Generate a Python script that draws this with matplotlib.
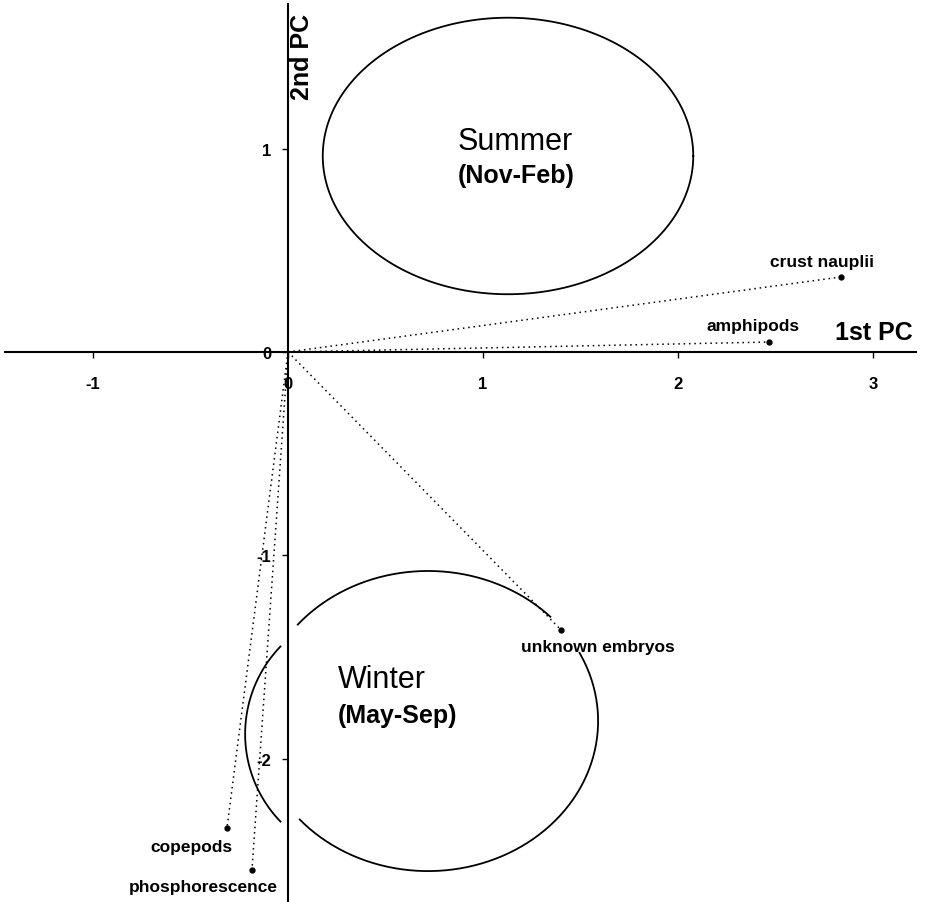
import numpy as np
from matplotlib import pyplot as plt

plt.rcParams['font.family'] = ['Liberation Sans', 'DejaVu Sans']
plt.rcParams['axes.unicode_minus'] = False

# species loadings on the first two principal components
species = ["crust nauplii", "amphipods", "unknown embryos", "copepods", "phosphorescence"]
pc1 = [2.836, 2.467, 1.40, -0.313, -0.185]
pc2 = [0.369, 0.049, -1.367, -2.341, -2.548]
# label anchor (offset from point, data units)
lab_dx = [-0.10, -0.08, 0.19, -0.18, -0.25]
lab_dy = [0.075, 0.080, -0.080, -0.09, -0.08]

# season groups: centre x, centre y, half width, half height
summer = (1.128, 0.964, 0.95, 0.68)
winter = (0.718, -1.815, 0.872, 0.738)
winter_left = (0.426, -1.879, 0.646, 0.620)

xticks = [-1, 0, 1, 2, 3]
yticks = [-2, -1, 0, 1]


def arc(ax, e, t1, t2):
    t = np.radians(np.linspace(t1, t2, 200))
    ax.plot(e[0] + e[2]*np.cos(t), e[1] + e[3]*np.sin(t), color="k", lw=1.3)


fig = plt.figure(figsize=(9.30, 9.03), dpi=100)
ax = fig.add_axes([0, 0, 1, 1])
ax.set_xlim(-1.477, 3.292)
ax.set_ylim(-2.705, 1.736)

for s in ["top", "right"]:
    ax.spines[s].set_visible(False)
ax.spines["left"].set_position(("data", 0))
ax.spines["bottom"].set_position(("data", 0))
ax.spines["left"].set_bounds(-2.705, 1.71)
ax.spines["bottom"].set_bounds(-1.45, 3.22)
ax.spines["left"].set_linewidth(1.5)
ax.spines["bottom"].set_linewidth(1.5)
ax.set_xticks(xticks)
ax.set_yticks(yticks)
ax.tick_params(axis="x", direction="out", length=4, width=1, pad=13, labelsize=12)
ax.tick_params(axis="y", direction="out", length=4, width=1, pad=8, labelsize=12)
for lab in ax.get_xticklabels() + ax.get_yticklabels():
    lab.set_fontweight("bold")

# season ellipses
arc(ax, summer, 0, 360)
arc(ax, winter, 44, 140)
arc(ax, winter, -139, 27)
arc(ax, winter_left, 136, 224)

# loadings
for name, x, y, dx, dy in zip(species, pc1, pc2, lab_dx, lab_dy):
    ax.plot([0, x], [0, y], color="k", lw=1.1, linestyle=(0, (1, 2.5)))
    ax.plot(x, y, "o", color="k", markersize=3.5)
    ax.text(x + dx, y + dy, name, ha="center", va="center", fontsize=12.5, fontweight="bold")

ax.text(0.872, 0.999, "Summer", ha="left", va="baseline", fontsize=22)
ax.text(0.872, 0.836, "(Nov-Feb)", ha="left", va="baseline", fontsize=18, fontweight="bold")
ax.text(0.256, -1.648, "Winter", ha="left", va="baseline", fontsize=22)
ax.text(0.256, -1.82, "(May-Sep)", ha="left", va="baseline", fontsize=18, fontweight="bold")

ax.text(3.205, 0.064, "1st PC", ha="right", va="baseline", fontsize=18, fontweight="bold")
ax.text(0.072, 1.456, "2nd PC", ha="center", va="center", fontsize=18, fontweight="bold", rotation=90)

fig.savefig("out.png", dpi=100)
